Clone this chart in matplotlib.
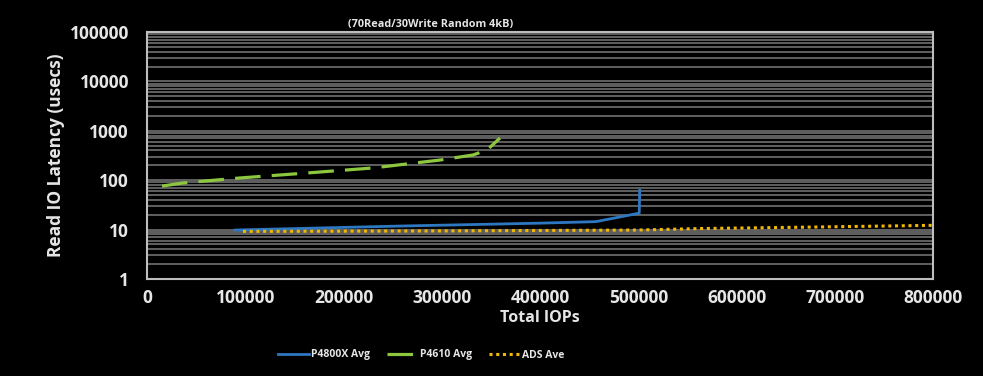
import matplotlib
matplotlib.use("Agg")
import matplotlib.pyplot as plt
import numpy as np

# Data
p4800x_iops = [89500, 257500, 400000, 457000, 501000, 501500]
p4800x_lat = [9.8, 11.8, 13.5, 14.5, 21.5, 63]

p4610_iops = [15300, 36600, 94700, 162900, 230000, 298200, 331800, 346100, 359300]
p4610_lat = [76, 88, 111, 140, 177, 256, 324, 409, 715]

ads_iops = [97700, 300000, 500000, 563000, 657000, 800000]
ads_lat = [9.2, 9.4, 9.8, 10.5, 11.1, 12.2]

x_ticks = [0, 100000, 200000, 300000, 400000, 500000, 600000, 700000, 800000]
y_ticks = [1, 10, 100, 1000, 10000, 100000]

plt.rcParams['font.family'] = ['Open Sans', 'DejaVu Sans']
plt.rcParams['font.weight'] = 'bold'

fig = plt.figure(figsize=(9.83, 3.76), dpi=100, facecolor='black')
ax = fig.add_axes([147/983, 1-279/376, (933-147)/983, (279-32)/376])
ax.set_facecolor('black')

ax.set_yscale('log')
ax.set_ylim(1, 100000)
ax.set_xlim(0, 800000)

ax.grid(True, which='both', axis='y', color='#606060', linewidth=1.4)
ax.set_axisbelow(True)

ax.plot(p4800x_iops, p4800x_lat, color='#2e78c2', linewidth=2.0, label='P4800X Avg', zorder=3)
ax.plot(p4610_iops, p4610_lat, color='#8dc63f', linewidth=2.3, dashes=(8, 3.5), label='P4610 Avg', zorder=3)
ax.plot(ads_iops, ads_lat, color='#f2b705', linewidth=2.2, dashes=(1, 1.2), label='ADS Ave', zorder=3)

ax.set_xticks(x_ticks)
ax.set_xticklabels([str(v) for v in x_ticks])
ax.set_yticks(y_ticks)
ax.set_yticklabels([str(v) for v in y_ticks])
ax.yaxis.set_minor_formatter(matplotlib.ticker.NullFormatter())
ax.tick_params(axis='both', which='both', length=0, colors='#e6e6e6', labelsize=12.5)
ax.tick_params(axis='y', pad=13)
ax.tick_params(axis='x', pad=7)

for s in ax.spines.values():
    s.set_color('#bdbdbd')
    s.set_linewidth(1.5)

ax.set_xlabel('Total IOPs', color='#e6e6e6', fontsize=11.5, fontweight='bold', labelpad=2)
ax.set_ylabel('Read IO Latency (usecs)', color='#e6e6e6', fontsize=12.5, fontweight='bold', labelpad=3)

fig.text(431/983, 1-25/376, '(70Read/30Write Random 4kB)', color='#e6e6e6', fontsize=7.8,
         fontweight='bold', ha='center', va='center')

leg = fig.legend(loc='center', bbox_to_anchor=(421/983, 1-355/376), ncol=3, frameon=False,
                 fontsize=7.5, handlelength=3.0, handletextpad=0.2, columnspacing=1.6)
for t in leg.get_texts():
    t.set_color('#e6e6e6')

fig.savefig('out.png', dpi=100, facecolor='black')
